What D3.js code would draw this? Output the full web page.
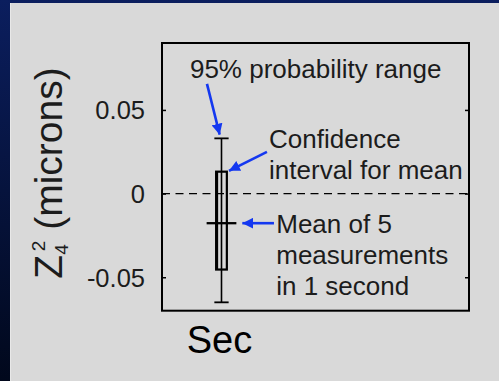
<!DOCTYPE html>
<html lang="en">
<head>
<meta charset="UTF-8">
<title>Z4^2 box</title>
<style>
  html, body { margin: 0; padding: 0; background: #000; }
  svg { display: block; }
</style>
</head>
<body>
<div id="chart"></div>
<script src="https://cdnjs.cloudflare.com/ajax/libs/d3/7.8.2/d3.min.js"></script>
<script>
// chart values
var categories = ["Sec"];
var whiskerLow = [-0.065];
var whiskerHigh = [0.033];
var ciLow = [-0.0454];
var ciHigh = [0.0131];
var means = [-0.0177];
var yTicks = [-0.05, 0, 0.05];
var yTickLabels = ["-0.05", "0", "0.05"];

// annotation text, anchored in data units
var notes = [
  { lines: ["95% probability range"], x: 0.735, y: 0.0688 },
  { lines: ["Confidence", "interval for mean"], x: 1.4, y: 0.0274 },
  { lines: ["Mean of 5", "measurements", "in 1 second"], x: 1.46, y: -0.0233 }
];
var arrows = [
  { x1: 0.878, y1: 0.0656, x2: 0.985, y2: 0.0352 },
  { x1: 1.382, y1: 0.0249, x2: 1.063, y2: 0.0136 },
  { x1: 1.441, y1: -0.0177, x2: 1.175, y2: -0.0177 }
];

var W = 499, H = 381;
var plot = { left: 162, right: 469, top: 43, bottom: 310.7 };

var svg = d3.select("#chart").append("svg")
  .attr("width", W)
  .attr("height", H);

var defs = svg.append("defs");
var bg = defs.append("linearGradient")
  .attr("id", "bg")
  .attr("x1", 0).attr("y1", 0).attr("x2", 0).attr("y2", 1);
bg.append("stop").attr("offset", "0%").attr("stop-color", "#0b1e5e");
bg.append("stop").attr("offset", "100%").attr("stop-color", "#01081c");

defs.append("marker")
  .attr("id", "head")
  .attr("viewBox", "0 0 10 10")
  .attr("refX", 10).attr("refY", 5)
  .attr("markerWidth", 4.2).attr("markerHeight", 4.2)
  .attr("markerUnits", "strokeWidth")
  .attr("orient", "auto")
  .append("path")
  .attr("d", "M0,0 L10,5 L0,10 z")
  .attr("fill", "#1438f0");

svg.append("rect")
  .attr("width", W).attr("height", H)
  .attr("fill", "url(#bg)");

svg.append("rect")
  .attr("x", 10).attr("y", 3)
  .attr("width", W - 10).attr("height", H - 3)
  .attr("fill", "#d9d9d9");
svg.append("line")
  .attr("x1", 10.5).attr("x2", 10.5).attr("y1", 3).attr("y2", H)
  .attr("stroke", "#e8e8e8");

var x = d3.scaleLinear()
  .domain([0.5, 3.08])
  .range([plot.left, plot.right]);

var y = d3.scaleLinear()
  .domain([-0.07, 0.09])
  .range([plot.bottom, plot.top]);

var font = "Arial, 'Liberation Sans', sans-serif";
var ink = "#1c1c1c";

// zero reference line
svg.append("line")
  .attr("x1", plot.left).attr("x2", plot.right)
  .attr("y1", y(0)).attr("y2", y(0))
  .attr("stroke", "#000")
  .attr("stroke-width", 1.3)
  .attr("stroke-dasharray", "8,5.5");

// left and right ticks (inward)
var leftAxis = d3.axisLeft(y)
  .tickValues(yTicks)
  .tickSize(-4)
  .tickPadding(17)
  .tickFormat(function(d, i) { return yTickLabels[i]; });

var gl = svg.append("g")
  .attr("transform", "translate(" + plot.left + ",0)")
  .call(leftAxis);
gl.select(".domain").remove();
gl.selectAll("line").attr("stroke", "#000").attr("stroke-width", 1.5);
gl.selectAll("text")
  .attr("font-family", font)
  .attr("font-size", 25.5)
  .attr("fill", ink)
  .attr("dy", "0.35em");

var gr = svg.append("g")
  .attr("transform", "translate(" + plot.right + ",0)")
  .call(d3.axisRight(y).tickValues(yTicks).tickSize(-4).tickFormat(""));
gr.select(".domain").remove();
gr.selectAll("line").attr("stroke", "#000").attr("stroke-width", 1.5);

// frame
svg.append("rect")
  .attr("x", plot.left).attr("y", plot.top)
  .attr("width", plot.right - plot.left)
  .attr("height", plot.bottom - plot.top)
  .attr("fill", "none")
  .attr("stroke", "#000")
  .attr("stroke-width", 2);

// box plot
var pos = categories.map(function(c, i) { return i + 1; });
var box = svg.selectAll(".box")
  .data(categories)
  .enter().append("g")
  .attr("class", "box");

box.append("line")
  .attr("x1", function(d, i) { return x(pos[i]); })
  .attr("x2", function(d, i) { return x(pos[i]); })
  .attr("y1", function(d, i) { return y(whiskerLow[i]); })
  .attr("y2", function(d, i) { return y(whiskerHigh[i]); })
  .attr("stroke", "#000").attr("stroke-width", 1.6);

[whiskerLow, whiskerHigh].forEach(function(arr) {
  box.append("line")
    .attr("x1", function(d, i) { return x(pos[i] - 0.06); })
    .attr("x2", function(d, i) { return x(pos[i] + 0.06); })
    .attr("y1", function(d, i) { return y(arr[i]); })
    .attr("y2", function(d, i) { return y(arr[i]); })
    .attr("stroke", "#000").attr("stroke-width", 1.8);
});

box.append("rect")
  .attr("x", function(d, i) { return x(pos[i] - 0.045); })
  .attr("y", function(d, i) { return y(ciHigh[i]); })
  .attr("width", function(d, i) { return x(pos[i] + 0.045) - x(pos[i] - 0.045); })
  .attr("height", function(d, i) { return y(ciLow[i]) - y(ciHigh[i]); })
  .attr("fill", "none")
  .attr("stroke", "#000").attr("stroke-width", 2.2);

box.append("line")
  .attr("x1", function(d, i) { return x(pos[i] - 0.045) + 0.8; })
  .attr("x2", function(d, i) { return x(pos[i] - 0.045) + 0.8; })
  .attr("y1", function(d, i) { return y(ciHigh[i]); })
  .attr("y2", function(d, i) { return y(ciLow[i]); })
  .attr("stroke", "#000").attr("stroke-width", 2.4);

box.append("line")
  .attr("x1", function(d, i) { return x(pos[i] - 0.125); })
  .attr("x2", function(d, i) { return x(pos[i] + 0.125); })
  .attr("y1", function(d, i) { return y(means[i]); })
  .attr("y2", function(d, i) { return y(means[i]); })
  .attr("stroke", "#000").attr("stroke-width", 2.3);

// category label
svg.selectAll(".cat")
  .data(categories)
  .enter().append("text")
  .attr("x", function(d, i) { return x(pos[i]) - 2; })
  .attr("y", 353)
  .attr("text-anchor", "middle")
  .attr("font-family", font)
  .attr("font-size", 38)
  .attr("fill", "#000")
  .text(function(d) { return d; });

// y axis label: Z with sub 4 and sup 2
var yl = svg.append("text")
  .attr("transform", "translate(62,173) rotate(-90)")
  .attr("text-anchor", "middle")
  .attr("font-family", font)
  .attr("font-size", 39)
  .attr("fill", ink);
yl.append("tspan").text("Z");
yl.append("tspan").attr("font-size", 19).attr("dy", 6).text("4");
yl.append("tspan").attr("font-size", 19).attr("dx", -7).attr("dy", -23).text("2");
yl.append("tspan").attr("dy", 17).text("\u00a0(microns)");

// annotations
notes.forEach(function(n) {
  var t = svg.append("text")
    .attr("font-family", font)
    .attr("font-size", 26)
    .attr("fill", ink);
  n.lines.forEach(function(line, k) {
    t.append("tspan")
      .attr("x", x(n.x))
      .attr("y", y(n.y) + k * 31.3)
      .text(line);
  });
});

svg.selectAll(".arrow")
  .data(arrows)
  .enter().append("line")
  .attr("class", "arrow")
  .attr("x1", function(d) { return x(d.x1); })
  .attr("y1", function(d) { return y(d.y1); })
  .attr("x2", function(d) { return x(d.x2); })
  .attr("y2", function(d) { return y(d.y2); })
  .attr("stroke", "#1438f0")
  .attr("stroke-width", 2.6)
  .attr("marker-end", "url(#head)");
</script>
</body>
</html>
